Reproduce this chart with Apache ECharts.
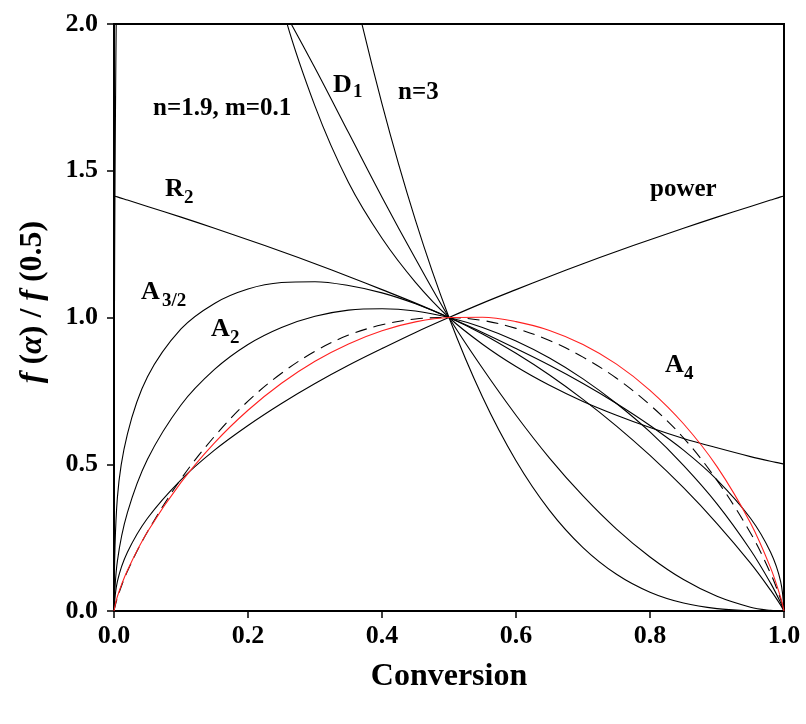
<!DOCTYPE html>
<html>
<head>
<meta charset="utf-8">
<script src="https://cdn.jsdelivr.net/npm/echarts@6/dist/echarts.min.js"></script>
<style>
  html, body { margin: 0; padding: 0; background: #fff; }
  #chart { width: 806px; height: 724px; }
</style>
</head>
<body>
<div id="chart"></div>
<script>
// conversion values shared by all curves
const alpha = [0, 0.005, 0.02, 0.05, 0.1, 0.15, 0.2, 0.25, 0.3, 0.35, 0.4, 0.45, 0.5,
  0.55, 0.6, 0.65, 0.7, 0.75, 0.8, 0.85, 0.9, 0.95, 0.98, 0.995, 1]

// f(a)/f(0.5) (null = off the chart)
const a32 = [0, 0.385, 0.603, 0.798, 0.961, 1.048, 1.097, 1.119, 1.122, 1.109, 1.084, 1.047, 1,
  0.944, 0.878, 0.804, 0.721, 0.630, 0.530, 0.420, 0.298, 0.163, 0.071, 0.020, 0]
const a2 = [0, 0.169, 0.335, 0.517, 0.702, 0.823, 0.908, 0.966, 1.004, 1.025, 1.030, 1.022, 1,
  0.966, 0.920, 0.862, 0.791, 0.707, 0.610, 0.496, 0.365, 0.208, 0.095, 0.028, 0]
const a4 = [0, 0.049, 0.138, 0.270, 0.438, 0.573, 0.684, 0.776, 0.851, 0.910, 0.955, 0.985, 1,
  1.001, 0.986, 0.956, 0.908, 0.841, 0.752, 0.638, 0.492, 0.300, 0.147, 0.046, 0]
const dashed = [0, 0.045, 0.135, 0.270, 0.450, 0.595, 0.715, 0.810, 0.885, 0.940, 0.975, 0.995, 1,
  0.990, 0.963, 0.922, 0.865, 0.793, 0.702, 0.590, 0.445, 0.266, 0.128, 0.040, 0]
const power = [0, 0.100, 0.200, 0.316, 0.447, 0.548, 0.632, 0.707, 0.775, 0.837, 0.894, 0.949, 1,
  1.049, 1.095, 1.140, 1.183, 1.225, 1.265, 1.304, 1.342, 1.378, 1.400, 1.411, 1.414]
const r2 = [1.414, 1.411, 1.400, 1.378, 1.342, 1.304, 1.265, 1.225, 1.183, 1.140, 1.095, 1.049, 1,
  0.949, 0.894, 0.837, 0.775, 0.707, 0.632, 0.548, 0.447, 0.316, 0.200, 0.100, 0]
const d1 = [null, null, null, null, null, null, 2.62, 2.07, 1.72, 1.46, 1.27, 1.12, 1,
  0.909, 0.833, 0.769, 0.714, 0.667, 0.625, 0.588, 0.556, 0.526, 0.510, 0.503, 0.5]
const n3 = [null, null, null, null, null, null, null, null, 2.744, 2.197, 1.728, 1.331, 1,
  0.729, 0.512, 0.343, 0.216, 0.125, 0.064, 0.027, 0.008, 0.001, 0, 0, 0]
const sb = [0, 2.333, 2.603, 2.690, 2.601, 2.430, 2.26, 2.06, 1.85, 1.63, 1.41, 1.20, 1,
  0.827, 0.667, 0.521, 0.392, 0.279, 0.184, 0.107, 0.050, 0.013, 0.002, 0, 0]

const xTicks = ['0.0', '0.2', '0.4', '0.6', '0.8', '1.0']
const yTicks = ['0.0', '0.5', '1.0', '1.5', '2.0']

const FONT = '"Liberation Serif", "Times New Roman", serif'

function pts(ys) {
  return alpha.map((a, i) => [a, ys[i]]).filter(p => p[1] !== null)
}

function curve(ys, color, type) {
  return {
    type: 'line',
    data: pts(ys),
    showSymbol: false,
    symbol: 'none',
    smooth: 0.35,
    clip: true,
    silent: true,
    lineStyle: { color: color || '#000', width: 1.1, type: type || 'solid' }
  }
}

function lab(text, x, y, size) {
  return {
    type: 'text',
    x: x,
    y: y,
    silent: true,
    style: {
      text: text,
      fill: '#000',
      font: 'bold ' + size + 'px ' + FONT,
      verticalAlign: 'middle',
      textVerticalAlign: 'middle'
    }
  }
}

const chart = echarts.init(document.getElementById('chart'))

const axisCommon = {
  axisLine: { lineStyle: { color: '#000', width: 2 } },
  axisTick: { inside: false, length: 7, lineStyle: { color: '#000', width: 1.5 } },
  splitLine: { show: false },
  axisLabel: { color: '#000', fontFamily: FONT, fontWeight: 'bold', fontSize: 26 },
  nameTextStyle: { color: '#000', fontFamily: FONT, fontWeight: 'bold' }
}

chart.setOption({
  animation: false,
  backgroundColor: '#fff',
  grid: {
    left: 114, right: 22, top: 24, bottom: 113,
    show: true, borderColor: '#000', borderWidth: 2
  },
  xAxis: {
    ...axisCommon,
    type: 'value',
    min: 0, max: 1, interval: 0.2,
    axisLabel: { ...axisCommon.axisLabel, margin: 12, formatter: (v) => xTicks[Math.round(v * 5)] },
    name: 'Conversion',
    nameLocation: 'middle',
    nameGap: 50,
    nameTextStyle: { ...axisCommon.nameTextStyle, fontSize: 32 }
  },
  yAxis: {
    ...axisCommon,
    type: 'value',
    min: 0, max: 2, interval: 0.5,
    axisLabel: { ...axisCommon.axisLabel, margin: 16, formatter: (v) => yTicks[Math.round(v * 2)] }
  },
  series: [
    curve(r2),
    curve(power),
    curve(d1),
    curve(n3),
    curve(sb),
    curve(a32),
    curve(a2),
    curve(dashed, '#000', [12, 7]),
    curve(a4, '#ff2020')
  ],
  graphic: [
    {
      // y axis title
      type: 'text',
      x: 33,
      y: 302,
      rotation: Math.PI / 2,
      silent: true,
      style: {
        text: '{i|f} ({i|α}) / {i|f} (0.5)',
        fill: '#000',
        font: 'bold 32px ' + FONT,
        align: 'center',
        verticalAlign: 'middle',
        textAlign: 'center',
        textVerticalAlign: 'middle',
        rich: {
          i: { fontStyle: 'italic', fontWeight: 'bold', fontFamily: FONT, fontSize: 32, fill: '#000' }
        }
      }
    },
    lab('n=1.9, m=0.1', 153, 109, 25),
    lab('D', 333, 85, 26), lab('1', 353, 92, 19),
    lab('n=3', 398, 93, 25),
    lab('R', 165, 189, 26), lab('2', 184, 198, 19),
    lab('power', 650, 190, 25),
    lab('A', 141, 292, 26), lab('3/2', 162, 301, 19),
    lab('A', 211, 329, 26), lab('2', 230, 338, 19),
    lab('A', 665, 365, 26), lab('4', 684, 374, 19)
  ]
})
</script>
</body>
</html>
